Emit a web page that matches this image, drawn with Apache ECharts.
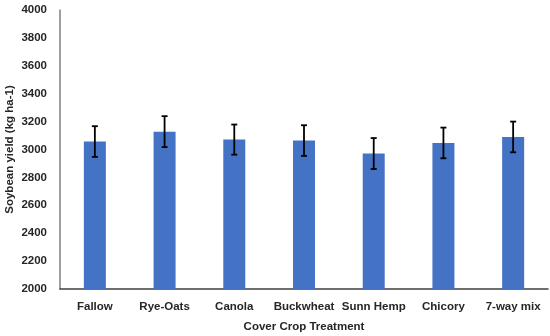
<!DOCTYPE html>
<html>
<head>
<meta charset="utf-8">
<script src="https://cdn.jsdelivr.net/npm/echarts@6/dist/echarts.min.js"></script>
<style>html,body{margin:0;padding:0;background:#fff}#c{width:550px;height:336px}</style>
</head>
<body>
<div id="c"></div>
<script>
var categories = ['Fallow', 'Rye-Oats', 'Canola', 'Buckwheat', 'Sunn Hemp', 'Chicory', '7-way mix'];
var yieldMeans = [3057, 3128, 3071, 3064, 2971, 3047, 3090];
var yieldErrors = [110, 111, 108, 110, 111, 110, 110];
var yTicks = { min: 2000, max: 4000, interval: 200 };

var errData = categories.map(function (c, i) {
  return [i, yieldMeans[i] - yieldErrors[i], yieldMeans[i] + yieldErrors[i]];
});

var font = 'Liberation Sans, Arial, sans-serif';
var chart = echarts.init(document.getElementById('c'));
chart.setOption({
  animation: false,
  grid: { left: 60, right: 2, top: 10, bottom: 47, containLabel: false, outerBoundsMode: 'none' },
  xAxis: {
    type: 'category',
    data: categories,
    name: 'Cover Crop Treatment',
    nameLocation: 'middle',
    nameGap: 32,
    nameMoveOverlap: false,
    nameTextStyle: { fontFamily: font, fontWeight: 'bold', fontSize: 11.5, color: '#262626' },
    axisLine: { lineStyle: { color: '#404040', width: 1.5 } },
    axisTick: { show: false },
    axisLabel: { interval: 0, hideOverlap: false, fontFamily: font, fontWeight: 'bold', fontSize: 11.5, color: '#262626', margin: 12 }
  },
  yAxis: {
    type: 'value',
    min: yTicks.min,
    max: yTicks.max,
    interval: yTicks.interval,
    name: 'Soybean yield (kg ha-1)',
    nameLocation: 'middle',
    nameGap: 44,
    nameMoveOverlap: false,
    nameTextStyle: { fontFamily: font, fontWeight: 'bold', fontSize: 11.5, color: '#262626' },
    axisLine: { show: true, lineStyle: { color: '#808080', width: 1.5 } },
    axisTick: { show: false },
    splitLine: { show: false },
    axisLabel: { formatter: function (v) { return String(v); }, fontFamily: font, fontWeight: 'bold', fontSize: 11.5, color: '#262626', margin: 13 }
  },
  series: [
    {
      type: 'bar',
      data: yieldMeans,
      barWidth: 22,
      itemStyle: { color: '#4472C4' }
    },
    {
      type: 'custom',
      data: errData,
      z: 10,
      renderItem: function (params, api) {
        var x = api.value(0);
        var lo = api.coord([x, api.value(1)]);
        var hi = api.coord([x, api.value(2)]);
        var hw = 3;
        var st = { stroke: '#000', lineWidth: 1.8 };
        return {
          type: 'group',
          children: [
            { type: 'line', shape: { x1: lo[0], y1: lo[1], x2: hi[0], y2: hi[1] }, style: st },
            { type: 'line', shape: { x1: lo[0] - hw, y1: lo[1], x2: lo[0] + hw, y2: lo[1] }, style: st },
            { type: 'line', shape: { x1: hi[0] - hw, y1: hi[1], x2: hi[0] + hw, y2: hi[1] }, style: st }
          ]
        };
      }
    }
  ]
});
</script>
</body>
</html>
